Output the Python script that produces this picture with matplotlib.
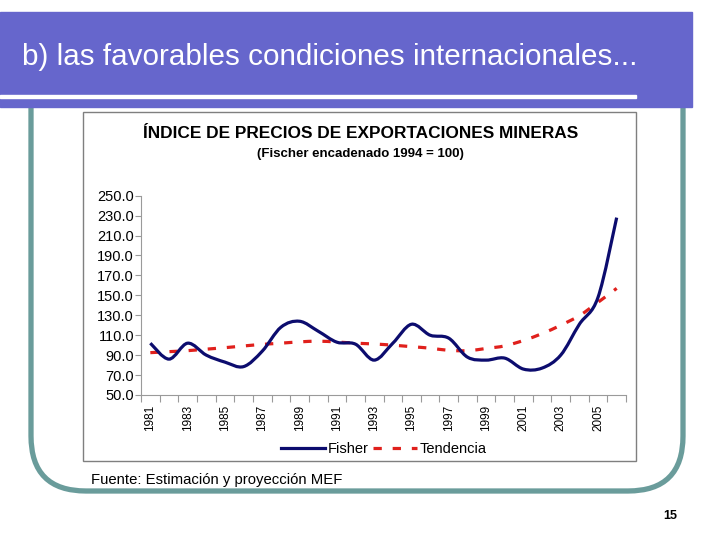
import numpy as np
import matplotlib.pyplot as plt
from matplotlib.path import Path
from matplotlib.patches import PathPatch, Rectangle, FancyBboxPatch
from matplotlib.lines import Line2D

plt.rcParams['font.family'] = ['Liberation Sans', 'DejaVu Sans']

# Mining export price index (annual)
years = list(range(1981, 2007))
fisher = [102, 86, 102, 90, 83, 78.5, 94, 118, 124, 114, 103, 101, 85, 102,
          121, 110, 107, 88, 85, 87, 76, 77, 90, 121, 148, 228]
tendencia = [92.5, 93.5, 94.5, 96, 97.5, 99.2, 100.8, 102, 103.3, 104, 103.2,
             102, 101.2, 100, 98.5, 97, 94.8, 94.5, 96.7, 99.3, 104.7, 111.6,
             120, 129.6, 143, 157]
tick_years = years[::2]
yticks = list(range(50, 251, 20))

NAVY = '#0c0c6e'
RED = '#e0201c'
BANNER = '#6666cc'
TEAL = '#6a9c9b'
DASH = (0, (2.6, 3.4))


def smooth_path(xs, ys):
    # bezier through the points, like a spreadsheet "smoothed line"
    n = len(xs)
    verts = [(xs[0], ys[0])]
    codes = [Path.MOVETO]
    for i in range(n - 1):
        xa, ya = (xs[i - 1], ys[i - 1]) if i > 0 else (xs[i], ys[i])
        xb, yb = (xs[i + 2], ys[i + 2]) if i + 2 < n else (xs[i + 1], ys[i + 1])
        c1 = (xs[i] + (xs[i + 1] - xa) / 6, ys[i] + (ys[i + 1] - ya) / 6)
        c2 = (xs[i + 1] - (xb - xs[i]) / 6, ys[i + 1] - (yb - ys[i]) / 6)
        verts += [c1, c2, (xs[i + 1], ys[i + 1])]
        codes += [Path.CURVE4] * 3
    return Path(verts, codes)


fig = plt.figure(figsize=(7.2, 5.4), dpi=100)

# slide decoration, in pixel coordinates
bg = fig.add_axes([0, 0, 1, 1])
bg.set_xlim(0, 720)
bg.set_ylim(540, 0)
bg.axis('off')

bg.add_patch(FancyBboxPatch((31, 40), 652, 451, boxstyle='round,pad=0,rounding_size=55',
                            fill=False, ec=TEAL, lw=3.8, zorder=1))
bg.add_patch(Rectangle((0, 12), 692, 95, color=BANNER, zorder=2))
bg.add_patch(Rectangle((0, 94.5), 636, 3, color='white', zorder=3))
bg.text(22, 57, 'b) las favorables condiciones internacionales...', color='white',
        fontsize=21.3, va='center', ha='left', zorder=4)

bg.add_patch(Rectangle((83, 112), 553, 349, fc='white', ec='#7f7f7f', lw=1, zorder=2))
bg.text(361, 133, 'ÍNDICE DE PRECIOS DE EXPORTACIONES MINERAS', fontsize=12.4,
        fontweight='bold', ha='center', va='center', zorder=4)
bg.text(360, 154, '(Fischer encadenado 1994 = 100)', fontsize=9.5,
        fontweight='bold', ha='center', va='center', zorder=4)

bg.text(91, 480, 'Fuente: Estimación y proyección MEF', fontsize=10.7,
        ha='left', va='center', zorder=4)
bg.text(670, 516, '15', fontsize=9, fontweight='heavy', ha='center', va='center', zorder=4)

# the chart itself
ax = fig.add_axes([141 / 720, 1 - 395 / 540, 485 / 720, (395 - 195.7) / 540])
ax.patch.set_alpha(0)
x = np.arange(len(years))

ax.add_patch(PathPatch(smooth_path(x, tendencia), fill=False, ec=RED, lw=2.3,
                       linestyle=DASH, capstyle='butt'))
ax.add_patch(PathPatch(smooth_path(x, fisher), fill=False, ec=NAVY, lw=2.3))

ax.set_xlim(-0.5, len(years) - 0.5)
ax.set_ylim(50, 250)

for side in ['top', 'right']:
    ax.spines[side].set_visible(False)
for side in ['left', 'bottom']:
    ax.spines[side].set_color('#9a9a9a')
    ax.spines[side].set_linewidth(0.8)

ax.set_yticks(yticks)
ax.set_yticklabels([f'{v:.1f}' for v in yticks])
ax.tick_params(axis='y', direction='out', length=4, color='#9a9a9a', pad=1, labelsize=10.5)

ax.set_xticks(np.arange(-0.5, len(years), 1))
ax.set_xticklabels([])
ax.tick_params(axis='x', which='major', direction='out', length=5, color='#9a9a9a')
ax.set_xticks([years.index(y) for y in tick_years], minor=True)
ax.set_xticklabels([str(y) for y in tick_years], minor=True, rotation=90)
ax.tick_params(axis='x', which='minor', length=0, pad=7, labelsize=8.5)

handles = [Line2D([], [], color=NAVY, lw=2.3),
           Line2D([], [], color=RED, lw=2.3, linestyle=DASH)]
fig.legend(handles, ['Fisher', 'Tendencia'], loc='center',
           bbox_to_anchor=(384 / 720, 1 - 449 / 540), ncol=2, frameon=False,
           fontsize=10.5, handlelength=3.0, handletextpad=0.2, columnspacing=0.3)

plt.savefig('out.png', dpi=100)
